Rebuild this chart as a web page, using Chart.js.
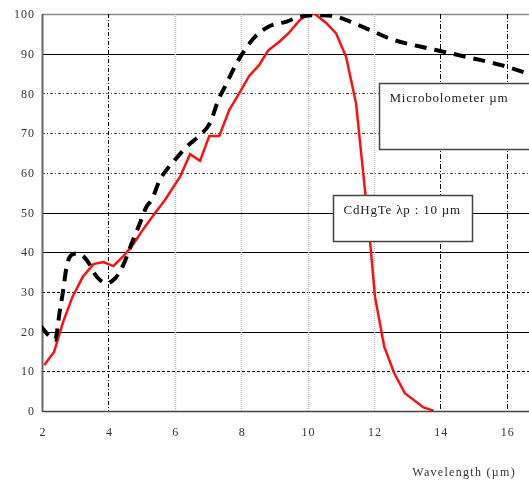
<!DOCTYPE html>
<html><head><meta charset="utf-8">
<script src="https://cdn.jsdelivr.net/npm/chart.js@4/dist/chart.umd.min.js"></script>
<style>html,body{margin:0;padding:0;background:#fff}canvas{display:block}</style>
</head><body>
<canvas id="c" width="529" height="481"></canvas>
<script>
// CdHgTe (red, solid)
const cdhgteX = [2.07,2.36,2.64,2.92,3.23,3.55,3.85,4.15,4.45,4.70,5.05,5.40,5.70,6.16,6.46,6.76,7.04,7.34,7.64,7.94,8.24,8.54,8.81,9.15,9.42,9.77,10.02,10.22,10.55,10.86,11.16,11.46,11.76,11.88,12.03,12.31,12.61,12.93,13.49,13.79];
const cdhgteY = [11.6,14.8,22.5,28.8,33.8,37.0,37.5,36.5,39.0,41.4,45.8,49.8,53.1,59.0,64.7,63.0,69.3,69.3,75.8,80.0,84.4,87.1,90.8,93.0,95.1,98.5,100,100,97.8,95.1,89.2,77.5,53.1,43.0,28.8,16.2,9.5,4.5,0.9,0.1];
// Microbolometer (black, dashed)
const boloX = [1.96,2.24,2.39,2.54,2.64,2.74,2.89,3.09,3.35,3.65,3.95,4.20,4.45,4.70,4.95,5.15,5.30,5.55,6.00,6.36,6.76,7.06,7.31,7.56,7.86,8.11,8.42,8.82,9.37,9.77,10.27,10.77,11.28,11.98,12.58,13.39,14.09,14.99,15.80,16.65];
const boloY = [21.4,18.7,17.9,25.4,30.5,36.3,39.3,39.7,38.0,33.8,32.2,33.4,36.8,42.2,47.3,51.5,53.1,58.2,63.2,66.6,69.5,72.5,78.3,82.5,87.6,90.9,94.3,96.8,98.1,99.3,99.7,99.5,98.1,95.6,93.5,91.8,90.5,88.8,87.2,85.0];
const xTicks = [2,4,6,8,10,12,14,16];
const yTicks = [0,10,20,30,40,50,60,70,80,90,100];
const xTitle = 'Wavelength (\u00b5m)';
const labelBolo = 'Microbolometer \u00b5m';
const labelCd = 'CdHgTe \u03bbp : 10 \u00b5m';

const pts = (xs, ys) => xs.map((x, i) => ({x, y: ys[i]}));
const SERIF = '"Liberation Serif","DejaVu Serif",serif';

// gridline styles per value
const hStyle = {
  100:{c:'#888',w:1.5,d:[]}, 90:{c:'#000',w:1.2,d:[]}, 80:{c:'#555',w:1,d:[3,2,1,2]},
  70:{c:'#555',w:1,d:[3,2,1,2]}, 60:{c:'#555',w:1,d:[3,2,1,2]}, 50:{c:'#000',w:1.2,d:[]},
  40:{c:'#000',w:1.2,d:[]}, 30:{c:'#000',w:1,d:[3,2]}, 20:{c:'#000',w:1.2,d:[]},
  10:{c:'#000',w:1,d:[3,2]}, 0:{c:'#444',w:1.5,d:[]}
};
const vStyle = {
  2:{c:'#666',w:2,d:[]}, 4:{c:'#000',w:1,d:[4,2,1,2]}, 6:{c:'#bbb',w:1.5,d:[1,1]},
  8:{c:'#bbb',w:1.5,d:[1,1]}, 10:{c:'#bbb',w:1.5,d:[1,1]}, 12:{c:'#bbb',w:1.5,d:[1,1]},
  14:{c:'#000',w:1,d:[5,2,1,2]}, 16:{c:'#000',w:1,d:[5,2,1,2]}
};
// annotation boxes in data coordinates
const boxes = [
  {text: labelBolo, x0: 12.15, x1: 17.2, y0: 82.6, y1: 66.0},
  {text: labelCd, x0: 10.77, x1: 14.95, y0: 54.4, y1: 42.8}
];

const decor = {
  id: 'decor',
  beforeDatasetsDraw(chart) {
    const {ctx, chartArea: a, scales: {x, y}} = chart;
    ctx.save();
    yTicks.forEach(v => {
      const s = hStyle[v]; const py = Math.round(y.getPixelForValue(v)) + 0.5;
      ctx.beginPath(); ctx.setLineDash(s.d); ctx.strokeStyle = s.c; ctx.lineWidth = s.w;
      ctx.moveTo(a.left, py); ctx.lineTo(a.right, py); ctx.stroke();
    });
    xTicks.forEach(v => {
      const s = vStyle[v]; const px = Math.round(x.getPixelForValue(v)) + 0.5;
      ctx.beginPath(); ctx.setLineDash(s.d); ctx.strokeStyle = s.c; ctx.lineWidth = s.w;
      ctx.moveTo(px, a.top); ctx.lineTo(px, a.bottom); ctx.stroke();
    });
    ctx.setLineDash([]);
    ctx.fillStyle = '#333';
    ctx.font = '12px ' + SERIF;
    ctx.letterSpacing = '1px';
    ctx.textAlign = 'right'; ctx.textBaseline = 'middle';
    yTicks.forEach(v => ctx.fillText(String(v), a.left - 7, y.getPixelForValue(v) + 1));
    ctx.textAlign = 'center'; ctx.textBaseline = 'alphabetic';
    xTicks.forEach(v => ctx.fillText(String(v), x.getPixelForValue(v) + 1, a.bottom + 25));
    ctx.textAlign = 'right';
    ctx.letterSpacing = '1.3px';
    ctx.fillText(xTitle, 516, a.bottom + 65);
    ctx.restore();
  },
  afterDatasetsDraw(chart) {
    const {ctx, scales: {x, y}} = chart;
    ctx.save();
    boxes.forEach(b => {
      const l = Math.round(x.getPixelForValue(b.x0)) + 0.5, r = Math.round(x.getPixelForValue(b.x1)) + 0.5;
      const t = Math.round(y.getPixelForValue(b.y0)) + 0.5, bt = Math.round(y.getPixelForValue(b.y1)) + 0.5;
      ctx.fillStyle = '#fff'; ctx.fillRect(l, t, r - l, bt - t);
      ctx.strokeStyle = '#444'; ctx.lineWidth = 1.5; ctx.strokeRect(l, t, r - l, bt - t);
      ctx.fillStyle = '#222'; ctx.font = '13px ' + SERIF; ctx.letterSpacing = '0.8px';
      ctx.textAlign = 'left'; ctx.textBaseline = 'alphabetic';
      ctx.fillText(b.text, l + 10, t + 18);
    });
    ctx.restore();
  }
};

new Chart(document.getElementById('c'), {
  type: 'scatter',
  data: {
    datasets: [
      {label: 'Microbolometer', data: pts(boloX, boloY), showLine: true, borderColor: '#000',
       borderWidth: 4, borderDash: [12, 8], pointRadius: 0, cubicInterpolationMode: 'monotone', fill: false},
      {label: 'CdHgTe', data: pts(cdhgteX, cdhgteY), showLine: true, borderColor: '#ff1010',
       borderWidth: 2.5, pointRadius: 0, tension: 0, fill: false}
    ]
  },
  options: {
    responsive: false, animation: false,
    layout: {padding: {top: 14, right: 0, left: 0, bottom: 0}},
    plugins: {legend: {display: false}, tooltip: {enabled: false}},
    scales: {
      x: {type: 'linear', min: 2, max: 16.67,
          ticks: {display: false, stepSize: 2, includeBounds: false},
          grid: {display: false, drawTicks: false}, border: {display: false},
          afterFit(s) { s.height = 70; }},
      y: {type: 'linear', min: 0, max: 100,
          ticks: {display: false, stepSize: 10},
          grid: {display: false, drawTicks: false}, border: {display: false},
          afterFit(s) { s.width = 42; }}
    }
  },
  plugins: [decor]
});
</script>
</body></html>
